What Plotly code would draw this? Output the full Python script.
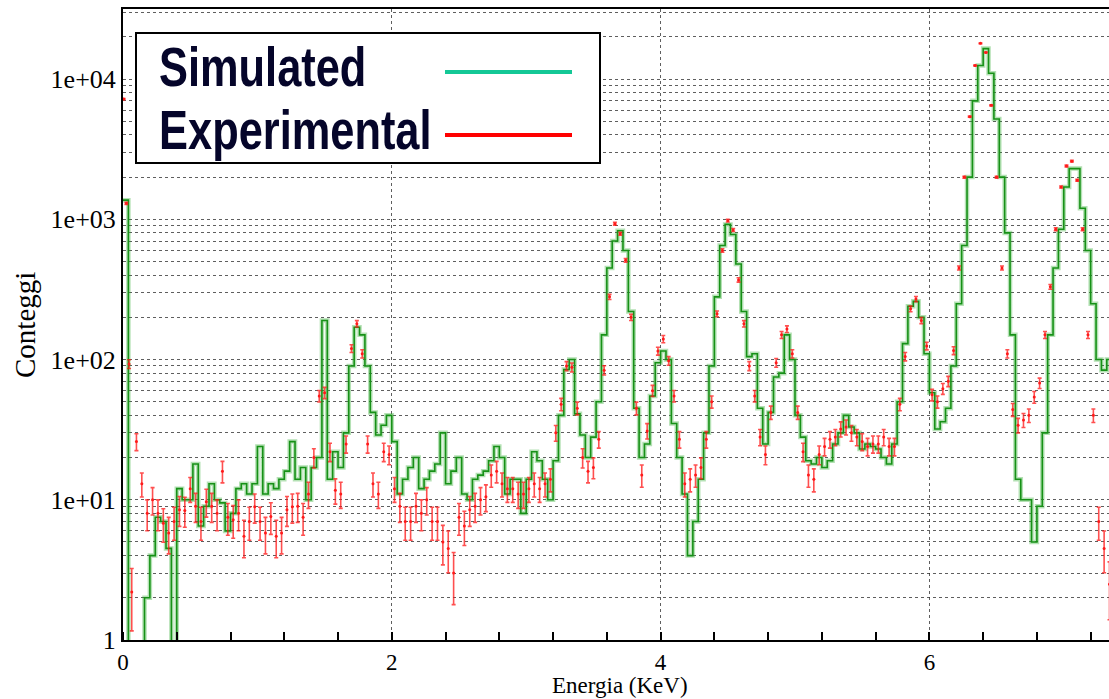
import numpy as np
import plotly.graph_objects as go

# ---------------- data ----------------
BIN_WIDTH = 0.04  # keV

# simulated spectrum, counts per bin (bin i covers [0.04*i, 0.04*(i+1)) keV)
sim_counts = [
    1370, 0.5, 0.5, 0.5, 2, 4, 7.5, 7, 4.5, 0.5,
    12, 10, 10, 18, 6.5, 9, 13, 10, 9.5, 6,
    8, 12, 13, 11, 13, 24, 11, 13, 12, 14,
    16, 26, 14, 17, 10, 17, 20, 190, 14, 22,
    17, 30, 90, 170, 150, 90, 42, 29, 34, 40,
    26, 11, 14, 17, 20, 12, 14, 16, 18, 30,
    13, 16, 20, 11, 10, 14, 15, 16, 19, 24,
    20, 11, 14, 14, 8, 14, 22, 19, 14, 10,
    19, 40, 85, 100, 41, 29, 20, 28, 50, 150,
    450, 700, 830, 600, 220, 45, 20, 25, 55, 95,
    115, 100, 35, 20, 11, 4, 7, 14, 30, 90,
    280, 650, 920, 780, 480, 220, 105, 110, 45, 25,
    42, 75, 80, 150, 100, 40, 28, 19, 18, 20,
    17, 19, 25, 30, 40, 33, 30, 23, 25, 24,
    23, 20, 18, 25, 50, 130, 240, 260, 200, 110,
    58, 32, 36, 45, 90, 250, 650, 2000, 7000, 12500,
    16500, 11000, 5200, 2000, 800, 150, 14, 10, 10, 5,
    9, 30, 150, 450, 850, 1700, 2300, 2300, 1200, 600,
    250, 100, 84, 100,
]

# experimental spectrum: points very close to 0 keV
exp_edge_energy = [0.005, 0.025, 0.045, 0.065]
exp_edge_counts = [7200, 1300, 93, 2.2]

# experimental spectrum, counts at bin centres starting with bin 2 (0.10 keV)
EXP_FIRST_BIN = 2
exp_counts = [
    26, 13, 8, 10, 8, 6.8, 5.8, 7,
    8.5, 8.4, 12, 9, 7, 9.7, 9, 8, 16, 7.5,
    7.2, 8, 5.5, 7, 8.9, 7, 5.8, 7.6, 5.5, 5.8,
    8.5, 8.9, 9, 7.5, 11, 20, 55, 58, 22, 11.7,
    11, 25, 120, 180, 110, 25, 13, 11, 22, 21,
    12, 9, 7, 7, 9, 8, 10, 7, 7, 5,
    4.5, 3, 7.5, 6.5, 8.5, 9, 10, 10.5, 15, 16,
    13, 12, 12, 11, 11, 12, 13, 12, 13, 14,
    30, 48, 90, 88, 45, 20, 16, 17, 27, 84,
    280, 930, 790, 510, 200, 45, 15, 31, 60, 115,
    140, 98, 55, 27, 13, 14, 15, 17, 27, 50,
    212, 600, 980, 840, 370, 180, 90, 55, 28, 21,
    42, 95, 150, 165, 110, 42, 22, 15, 14, 21,
    24, 27, 28, 32, 33, 30, 28, 26, 24, 25,
    25, 28, 24, 24, 48, 105, 230, 270, 190, 125,
    56, 50, 62, 70, 116, 450, 2000, 5400, 12500, 18000,
    15500, 6500, 2000, 450, 110, 44, 34, 37, 40, 54,
    68, 150, 330, 850, 1700, 2400, 2600, 1900, 850, 150,
    40, 7, 4.5, 2.5,
]

x_tick_vals = [0, 2, 4, 6]
x_tick_text = ["0", "2", "4", "6"]
y_tick_vals = [1, 10, 100, 1000, 10000]
y_tick_text = ["1", "1e+01", "1e+02", "1e+03", "1e+04"]

legend_labels = ["Simulated", "Experimental"]

# ---------------- derived ----------------
n_sim = len(sim_counts)
sim_edges = [BIN_WIDTH * i for i in range(n_sim + 1)]
sim_x = sim_edges
sim_y = list(sim_counts) + [sim_counts[-1]]

exp_x = list(exp_edge_energy) + [BIN_WIDTH * (EXP_FIRST_BIN + i) + BIN_WIDTH / 2
                                 for i in range(len(exp_counts))]
exp_y = list(exp_edge_counts) + list(exp_counts)
exp_err = [0.7 * np.sqrt(v) for v in exp_y]

# ---------------- figure ----------------
W, H = 1109, 699
L, R, T, B = 123, 0, 9, 59
plot_w = W - L - R
plot_h = H - T - B
X_MAX = plot_w / 134.4
Y_MAX_LOG = 4.5

GREEN = "#179117"
RED = "#ff1a1a"
SERIF = "Liberation Serif, Times New Roman, serif"

fig = go.Figure()

# soft halo of the simulated histogram
fig.add_trace(go.Scatter(
    x=sim_x, y=sim_y, mode="lines", line_shape="hv",
    line=dict(color="rgba(40,170,40,0.35)", width=4.5),
    hoverinfo="skip", showlegend=False,
))
fig.add_trace(go.Scatter(
    x=sim_x, y=sim_y, mode="lines", line_shape="hv",
    line=dict(color=GREEN, width=1.6),
    name="Simulated", showlegend=False,
))
fig.add_trace(go.Scatter(
    x=exp_x, y=exp_y, mode="markers",
    marker=dict(color=RED, size=3),
    error_y=dict(type="data", array=exp_err, visible=True,
                 color="rgba(255,20,20,0.75)", thickness=1.6, width=2),
    name="Experimental", showlegend=False,
))

grid_col = "rgba(40,40,40,0.75)"
minor_y = [m * 10 ** d for d in range(0, 5) for m in range(2, 10)]

fig.update_xaxes(
    range=[0, X_MAX],
    tickmode="array", tickvals=x_tick_vals, ticktext=x_tick_text,
    ticks="", showgrid=True, gridcolor=grid_col, griddash="dot", gridwidth=1,
    showline=True, linecolor="black", linewidth=2, mirror=True,
    zeroline=False,
    minor=dict(dtick=0.4, tick0=0, ticks="inside", ticklen=8, tickwidth=2,
               tickcolor="black", showgrid=False),
    tickfont=dict(family=SERIF, size=23, color="black"),
    ticklabelstandoff=0,
)
fig.update_yaxes(
    type="log", range=[0, Y_MAX_LOG],
    tickmode="array", tickvals=y_tick_vals, ticktext=y_tick_text,
    ticks="", showgrid=True, gridcolor=grid_col, griddash="dot", gridwidth=1.3,
    showline=True, linecolor="black", linewidth=2, mirror=False,
    zeroline=False,
    minor=dict(tickmode="array", tickvals=minor_y, ticks="", showgrid=True,
               gridcolor=grid_col, griddash="dot", gridwidth=1),
    tickfont=dict(family=SERIF, size=26, color="black"),
)


def px_x(p):
    return (p - L) / plot_w


def px_y(p):
    return (H - B - p) / plot_h


annotations = [
    dict(text="Energia (KeV)", xref="paper", yref="paper",
         x=px_x(620), y=px_y(685), xanchor="center", yanchor="middle",
         showarrow=False, borderpad=0,
         font=dict(family=SERIF, size=23, color="black")),
    dict(text="Conteggi", xref="paper", yref="paper",
         x=px_x(25), y=px_y(325), xanchor="center", yanchor="middle",
         textangle=-90, showarrow=False,
         font=dict(family=SERIF, size=29, color="black")),
]
LEG_FONT = "Liberation Sans, Arial, sans-serif"
for label, yc in zip(legend_labels, [66, 129]):
    annotations.append(dict(
        text="<b>" + label + "</b>", xref="paper", yref="paper",
        x=px_x(157), y=px_y(yc), xanchor="left", yanchor="middle",
        showarrow=False, font=dict(family=LEG_FONT, size=56, color="#05052a")))

shapes = [
    dict(type="rect", xref="paper", yref="paper",
         x0=px_x(136), x1=px_x(600), y0=px_y(163), y1=px_y(33),
         line=dict(color="black", width=2), fillcolor="white", layer="above"),
    dict(type="line", xref="paper", yref="paper",
         x0=px_x(445), x1=px_x(572), y0=px_y(72), y1=px_y(72),
         line=dict(color="#14c896", width=4), layer="above"),
    dict(type="line", xref="paper", yref="paper",
         x0=px_x(445), x1=px_x(572), y0=px_y(135), y1=px_y(135),
         line=dict(color="#ff0000", width=4), layer="above"),
]

fig.update_layout(
    width=W, height=H,
    margin=dict(l=L, r=R, t=T, b=B, pad=0),
    paper_bgcolor="white", plot_bgcolor="white",
    showlegend=False,
    annotations=annotations, shapes=shapes,
)

# the legend lettering is a narrow (condensed) face: squeeze it horizontally
post_js = """
(function(){
  var gd = document.getElementById('{plot_id}');
  function squeeze(){
    var ts = gd.querySelectorAll('text.annotation-text');
    ts.forEach(function(t){
      var s = t.textContent;
      if (s === 'Simulated' || s === 'Experimental') {
        t.style.transformBox = 'fill-box';
        t.style.transformOrigin = 'left center';
        t.style.transform = 'scaleX(0.775)';
      }
    });
  }
  squeeze();
  if (gd.on) { gd.on('plotly_afterplot', squeeze); }
})();
"""

fig.write_html("out.html", include_plotlyjs=True, full_html=True,
               config={"displayModeBar": False}, post_script=post_js)
